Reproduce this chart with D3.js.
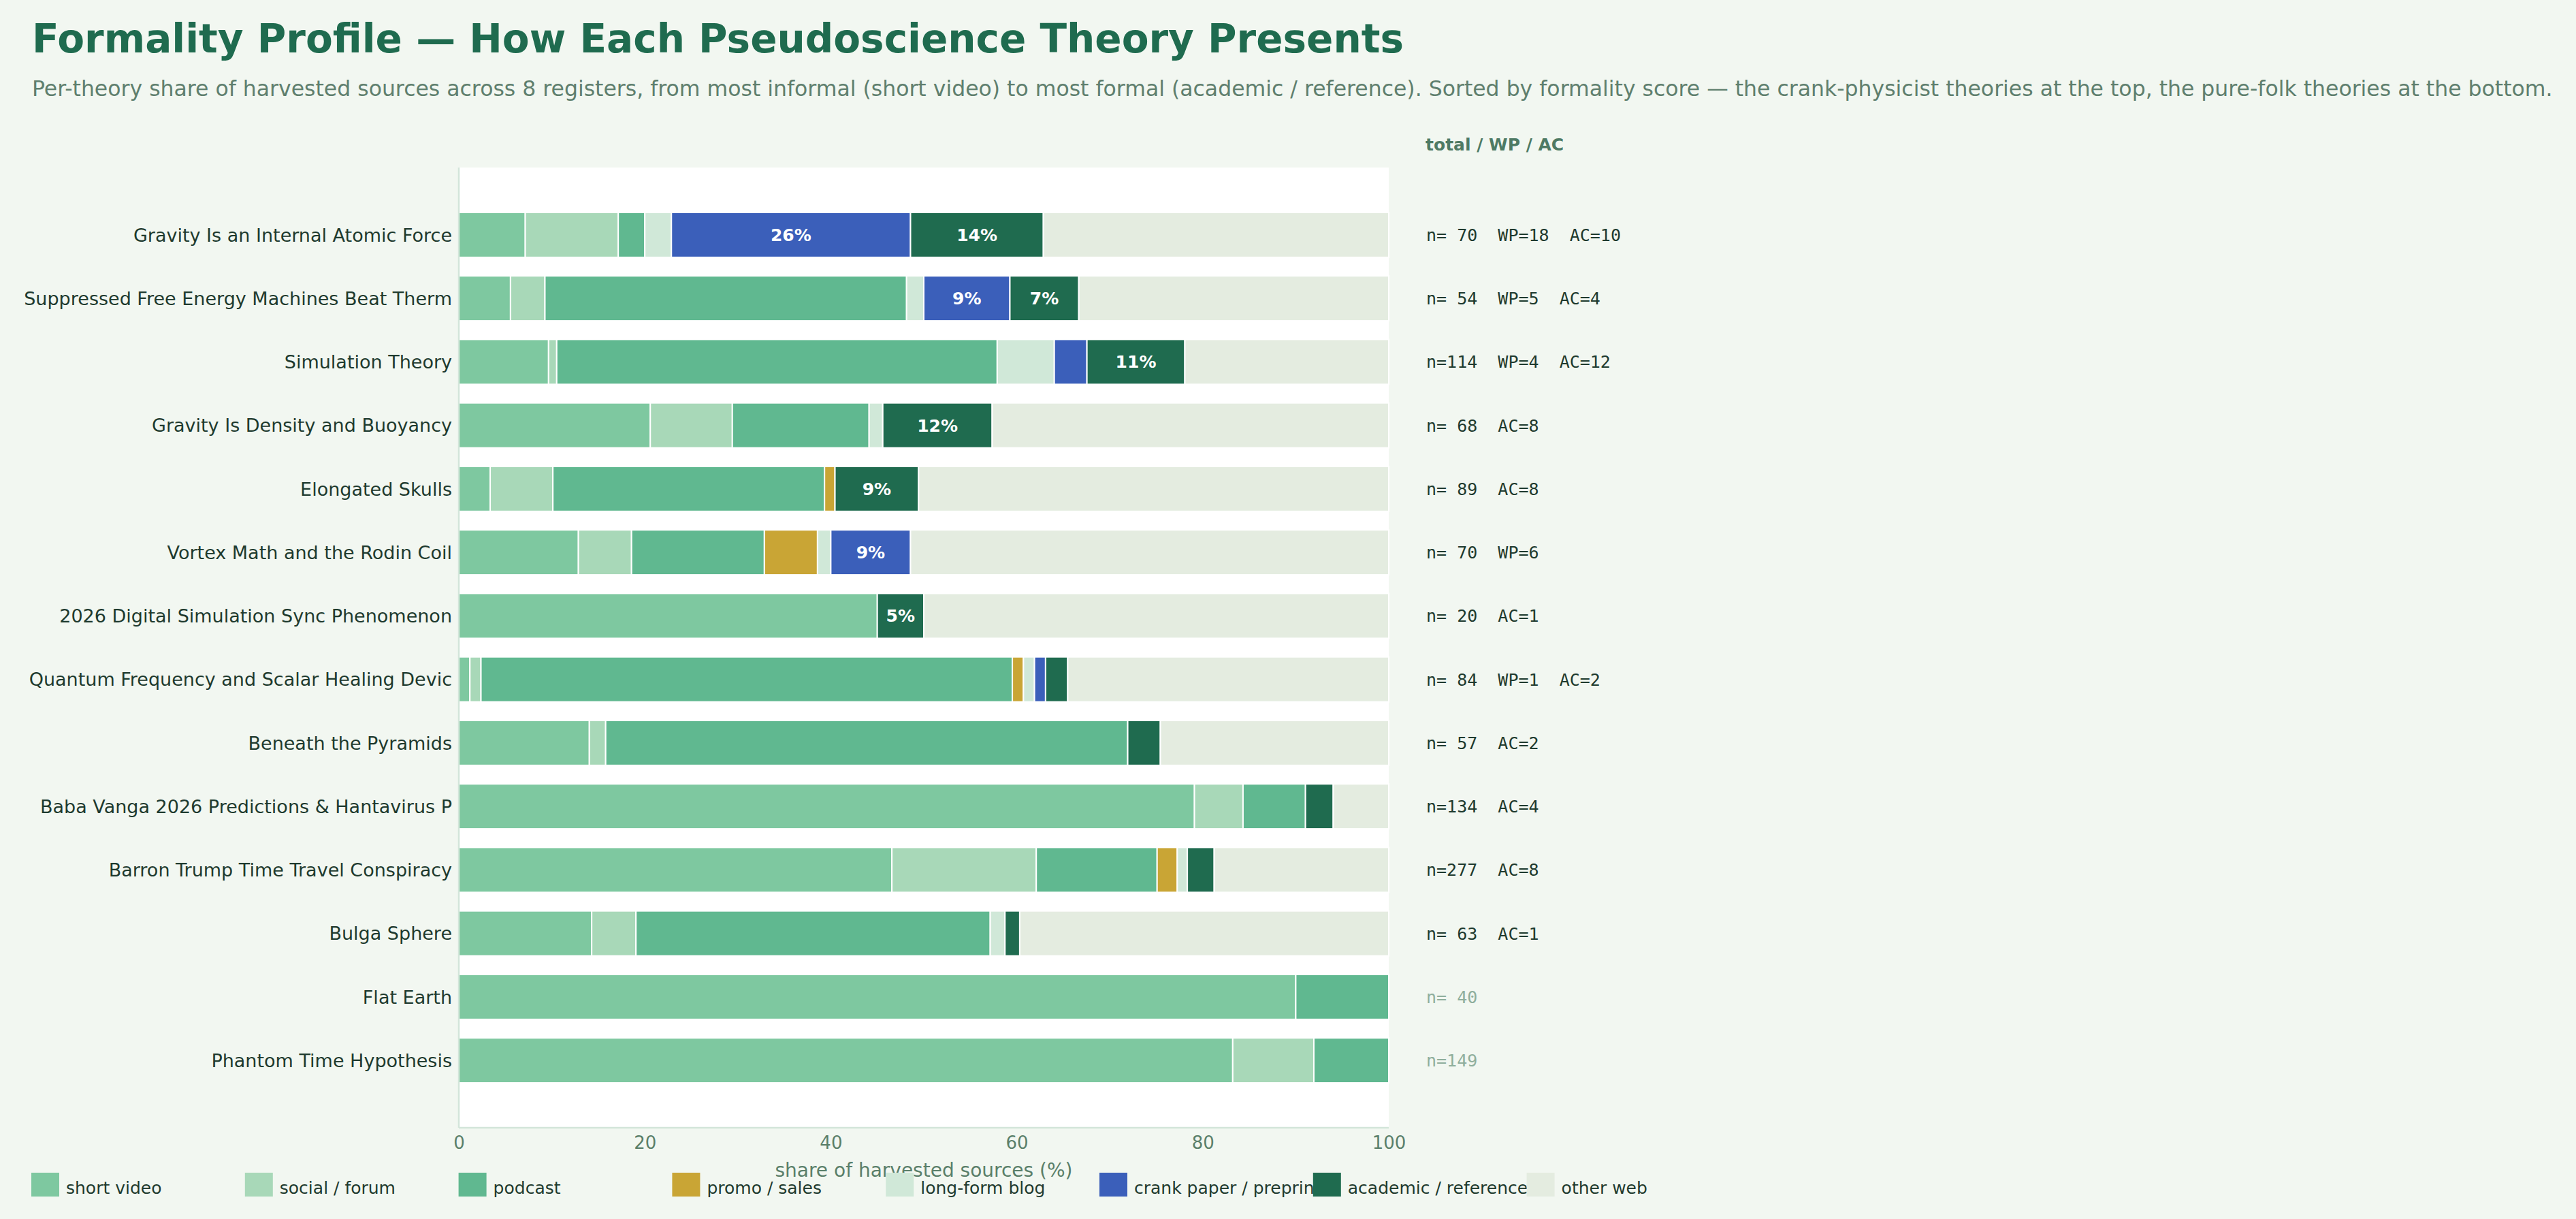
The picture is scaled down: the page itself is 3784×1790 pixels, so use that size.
<!DOCTYPE html>
<html>
<head>
<meta charset="utf-8">
<script src="https://cdn.jsdelivr.net/npm/d3@7"></script>
<style>
  body { margin: 0; background: #f2f7f1; }
  svg { display: block; font-family: "DejaVu Sans", sans-serif; }
</style>
</head>
<body>
<script>
// theories, top to bottom (labels as shown, cut at 42 chars)
const theories = [
  "Gravity Is an Internal Atomic Force",
  "Suppressed Free Energy Machines Beat Therm",
  "Simulation Theory",
  "Gravity Is Density and Buoyancy",
  "Elongated Skulls",
  "Vortex Math and the Rodin Coil",
  "2026 Digital Simulation Sync Phenomenon",
  "Quantum Frequency and Scalar Healing Devic",
  "Beneath the Pyramids",
  "Baba Vanga 2026 Predictions & Hantavirus P",
  "Barron Trump Time Travel Conspiracy",
  "Bulga Sphere",
  "Flat Earth",
  "Phantom Time Hypothesis"
];

const registers = ["short video", "social / forum", "podcast", "promo / sales",
  "long-form blog", "crank paper / preprint", "academic / reference", "other web"];
const registerColors = ["#7ec8a0", "#a8d8b8", "#60b890", "#c9a535",
  "#d0e8d8", "#3b5fba", "#1f6b4f", "#e4ece0"];

// source counts per register, one value per theory
const shortVideo = [5, 3, 11, 14, 3, 9, 9, 1, 8, 106, 129, 9, 36, 124];
const socialForum = [7, 2, 1, 6, 6, 4, 0, 1, 1, 7, 43, 3, 0, 13];
const podcast = [2, 21, 54, 10, 26, 10, 0, 48, 32, 9, 36, 24, 4, 12];
const promoSales = [0, 0, 0, 0, 1, 4, 0, 1, 0, 0, 6, 0, 0, 0];
const longformBlog = [2, 1, 7, 1, 0, 1, 0, 1, 0, 0, 3, 1, 0, 0];
const crankPaper = [18, 5, 4, 0, 0, 6, 0, 1, 0, 0, 0, 0, 0, 0];
const academicRef = [10, 4, 12, 8, 8, 0, 1, 2, 2, 4, 8, 1, 0, 0];
const otherWeb = [26, 18, 25, 29, 45, 36, 10, 29, 14, 8, 52, 25, 0, 0];

const xTicks = [0, 20, 40, 60, 80, 100];

const series = [shortVideo, socialForum, podcast, promoSales, longformBlog, crankPaper, academicRef, otherWeb];

const W = 3784, H = 1790;
const plot = { left: 674, right: 2040, top: 246, bottom: 1656 };

const svg = d3.select("body").append("svg")
  .attr("width", W).attr("height", H);

svg.append("rect").attr("width", W).attr("height", H).attr("fill", "#f2f7f1");

// titles
svg.append("text")
  .attr("x", 47).attr("y", 77)
  .attr("font-size", 58).attr("font-weight", "bold")
  .attr("fill", "#1f6b4f")
  .text("Formality Profile \u2014 How Each Pseudoscience Theory Presents");

svg.append("text")
  .attr("x", 47).attr("y", 141)
  .attr("font-size", 31.5)
  .attr("fill", "#5f7f6e")
  .text("Per-theory share of harvested sources across 8 registers, from most informal (short video) to most formal (academic / reference). Sorted by formality score \u2014 the crank-physicist theories at the top, the pure-folk theories at the bottom.");

// rows as shares
const rows = theories.map((name, i) => {
  const counts = series.map(s => s[i]);
  const n = d3.sum(counts);
  let acc = 0;
  const segs = counts.map((c, k) => {
    const pct = c / n * 100;
    const seg = { k, c, pct, x0: acc, x1: acc + pct };
    acc += pct;
    return seg;
  });
  return { name, n, wp: crankPaper[i], ac: academicRef[i], segs };
});

const x = d3.scaleLinear().domain([0, 100]).range([plot.left, plot.right]);
const y = d3.scaleBand().domain(theories)
  .range([plot.top, plot.bottom])
  .paddingInner(0.293).paddingOuter(0.707);

// plot background
svg.append("rect")
  .attr("x", plot.left).attr("y", plot.top)
  .attr("width", plot.right - plot.left).attr("height", plot.bottom - plot.top)
  .attr("fill", "#ffffff");

const rowG = svg.append("g").selectAll("g")
  .data(rows).join("g")
  .attr("transform", d => `translate(0,${y(d.name)})`);

rowG.selectAll("rect")
  .data(d => d.segs.filter(s => s.c > 0))
  .join("rect")
  .attr("x", s => x(s.x0))
  .attr("width", s => x(s.x1) - x(s.x0))
  .attr("height", y.bandwidth())
  .attr("fill", s => registerColors[s.k])
  .attr("stroke", "#ffffff")
  .attr("stroke-width", 2);

// share labels on crank + academic segments
rowG.selectAll("text.pct")
  .data(d => d.segs.filter(s => (s.k === 5 || s.k === 6) && s.pct >= 5))
  .join("text")
  .attr("class", "pct")
  .attr("x", s => x((s.x0 + s.x1) / 2))
  .attr("y", y.bandwidth() / 2)
  .attr("dy", "0.36em")
  .attr("text-anchor", "middle")
  .attr("font-size", 25).attr("font-weight", "bold")
  .attr("fill", "#ffffff")
  .text(s => Math.round(s.pct) + "%");

// spines
svg.append("line")
  .attr("x1", plot.left).attr("x2", plot.left)
  .attr("y1", plot.top).attr("y2", plot.bottom)
  .attr("stroke", "#d3e5da").attr("stroke-width", 2.5);
svg.append("line")
  .attr("x1", plot.left).attr("x2", plot.right)
  .attr("y1", plot.bottom).attr("y2", plot.bottom)
  .attr("stroke", "#d3e5da").attr("stroke-width", 2.5);

// y labels
svg.append("g").selectAll("text")
  .data(rows).join("text")
  .attr("x", plot.left - 10)
  .attr("y", d => y(d.name) + y.bandwidth() / 2)
  .attr("dy", "0.36em")
  .attr("text-anchor", "end")
  .attr("font-size", 27)
  .attr("fill", "#1e3a2e")
  .text(d => d.name);

// x axis
const xAxis = svg.append("g")
  .attr("transform", `translate(0,${plot.bottom})`)
  .call(d3.axisBottom(x).tickValues(xTicks).tickSize(0).tickPadding(13));
xAxis.select(".domain").remove();
xAxis.selectAll("text")
  .attr("font-family", "DejaVu Sans")
  .attr("font-size", 26)
  .attr("fill", "#5a7f6a");

svg.append("text")
  .attr("x", (plot.left + plot.right) / 2).attr("y", 1728)
  .attr("text-anchor", "middle")
  .attr("font-size", 28)
  .attr("fill", "#5a7f6a")
  .text("share of harvested sources (%)");

// right-hand count column
svg.append("text")
  .attr("x", 2094).attr("y", 221)
  .attr("font-size", 25).attr("font-weight", "bold")
  .attr("fill", "#4e7a64")
  .text("total / WP / AC");

svg.append("g").selectAll("text")
  .data(rows).join("text")
  .attr("x", 2095)
  .attr("y", d => y(d.name) + y.bandwidth() / 2)
  .attr("dy", "0.36em")
  .attr("font-family", "DejaVu Sans Mono")
  .attr("font-size", 25)
  .style("white-space", "pre")
  .attr("fill", d => (d.wp || d.ac) ? "#1e3a2e" : "#8fae9c")
  .text(d => {
    let s = "n=" + String(d.n).padStart(3, " ");
    if (d.wp) s += "  WP=" + d.wp;
    if (d.ac) s += "  AC=" + d.ac;
    return s;
  });

// legend
const legend = svg.append("g").selectAll("g")
  .data(registers).join("g")
  .attr("transform", (d, i) => `translate(${46 + i * 313.8},1722)`);
legend.append("rect")
  .attr("width", 41).attr("height", 35)
  .attr("fill", (d, i) => registerColors[i]);
legend.append("text")
  .attr("x", 51).attr("y", 31)
  .attr("font-size", 25)
  .attr("fill", "#1e3a2e")
  .text(d => d);
</script>
</body>
</html>
